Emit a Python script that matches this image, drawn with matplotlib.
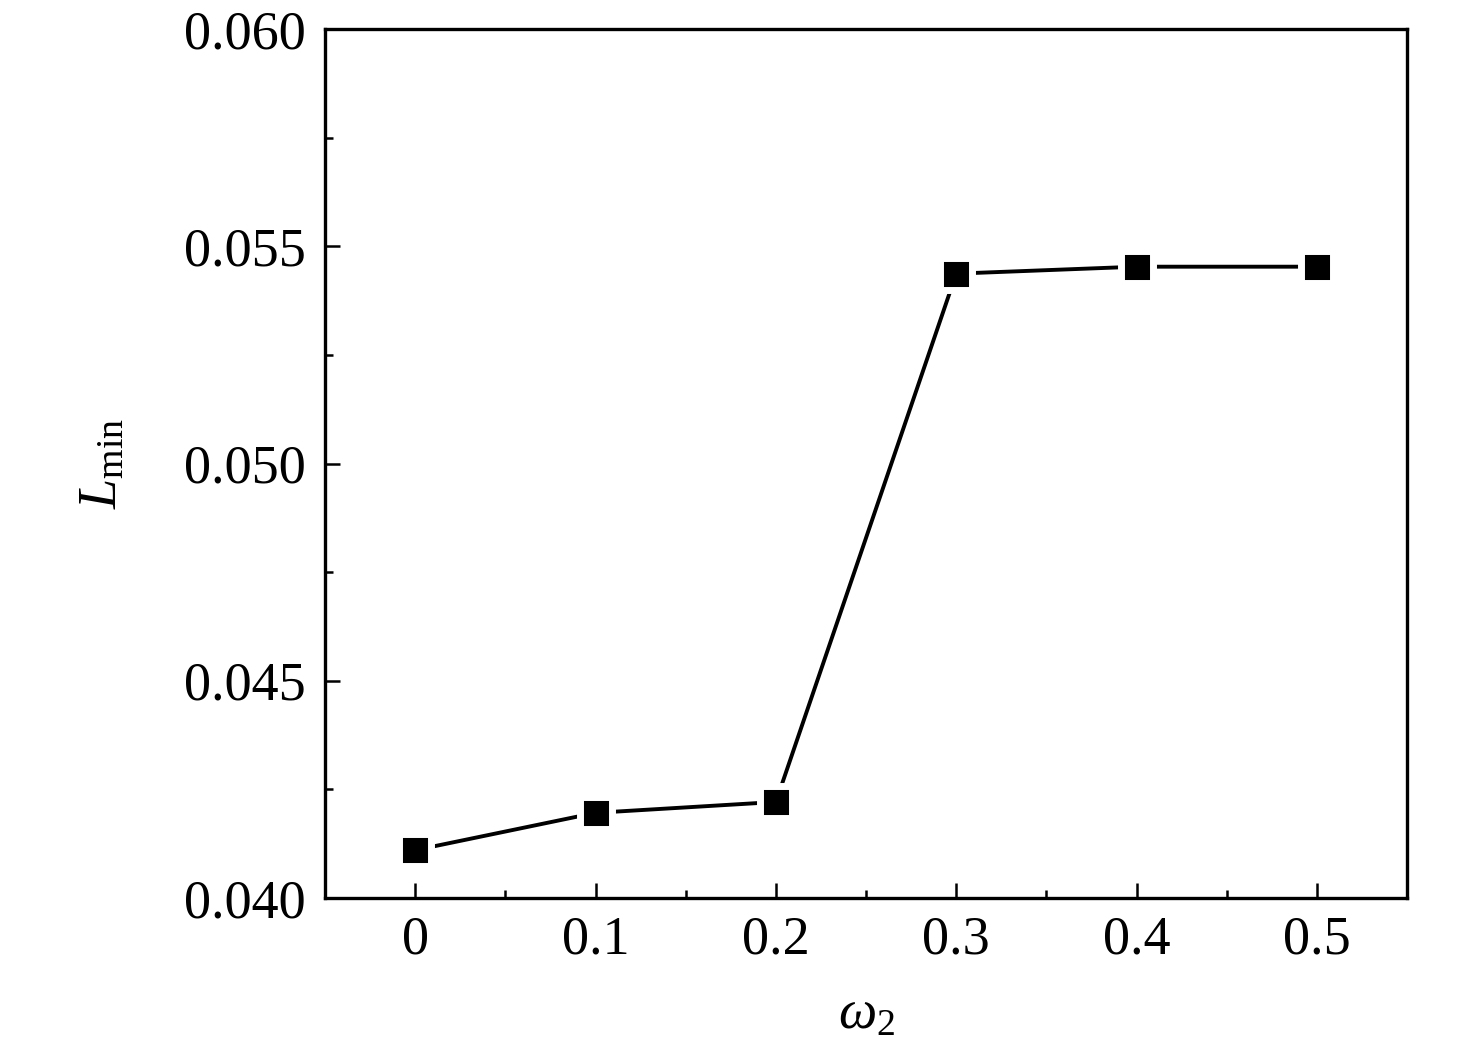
import numpy as np
import matplotlib
matplotlib.use('Agg')
import matplotlib.pyplot as plt
from matplotlib.ticker import MultipleLocator

plt.rcParams['font.family'] = ['Liberation Serif', 'DejaVu Serif']
plt.rcParams['mathtext.fontset'] = 'custom'
plt.rcParams['mathtext.rm'] = 'Liberation Serif'
plt.rcParams['mathtext.it'] = 'Liberation Serif:italic'

# data
omega2 = [0.0, 0.1, 0.2, 0.3, 0.4, 0.5]
L_min = [0.04110, 0.04196, 0.04221, 0.05437, 0.05453, 0.05453]

fig = plt.figure(figsize=(14.76, 10.52), dpi=100)
ax = fig.add_axes([0.2202, 0.1464, 0.9533 - 0.2202, 0.9724 - 0.1464])

# white marker edge gives the little gaps between line and squares
ax.plot(omega2, L_min, color='black', lw=2.8, marker='s', ms=23,
        mfc='black', mec='white', mew=5, solid_capstyle='round')

ax.set_xlim(-0.05, 0.55)
ax.set_ylim(0.040, 0.060)
ax.xaxis.set_major_locator(MultipleLocator(0.1))
ax.xaxis.set_minor_locator(MultipleLocator(0.05))
ax.yaxis.set_major_locator(MultipleLocator(0.005))
ax.yaxis.set_minor_locator(MultipleLocator(0.0025))
ax.set_xticks(omega2)
ax.set_xticklabels(['0', '0.1', '0.2', '0.3', '0.4', '0.5'])
ax.yaxis.set_major_formatter(matplotlib.ticker.FormatStrFormatter('%.3f'))

ax.tick_params(which='major', direction='in', length=11, width=1.8,
               labelsize=39, pad=14)
ax.tick_params(axis='x', which='major', pad=12)
ax.tick_params(which='minor', direction='in', length=5.5, width=1.8)
ax.tick_params(axis='y', which='both', right=False)
ax.tick_params(axis='x', which='both', top=False)
for s in ax.spines.values():
    s.set_linewidth(2.4)

ax.set_xlabel(r'$\mathit{\omega}_2$', fontsize=39, labelpad=18)
ax.set_ylabel(r'$\mathit{L}_{\mathrm{min}}$', fontsize=39, labelpad=40)

fig.savefig('out.png', dpi=100)
